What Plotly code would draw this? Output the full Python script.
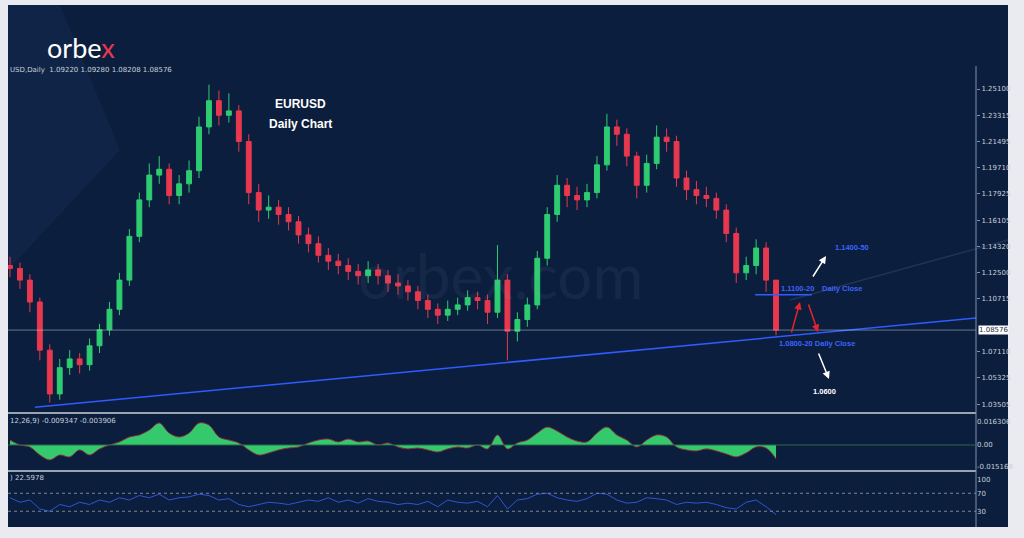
import plotly.graph_objects as go

W, H = 1024, 538
def px(x): return x / W
def py(y): return 1 - y / H

# ---- data ----
closes = [1.128,1.120,1.105,1.072,1.042,1.060,1.066,1.062,1.075,1.086,1.100,1.120,1.150,1.175,1.192,1.196,1.178,1.186,1.195,1.225,
          1.243,1.233,1.236,1.215,1.180,1.168,1.170,1.165,1.160,1.151,1.145,1.137,1.133,1.130,1.126,1.123,1.127,1.123,1.118,1.116,
          1.112,1.106,1.100,1.096,1.100,1.103,1.108,1.106,1.098,1.120,1.085,1.093,1.103,1.135,1.165,1.185,1.178,1.175,1.180,1.199,
          1.225,1.220,1.205,1.185,1.200,1.218,1.215,1.190,1.182,1.178,1.176,1.168,1.152,1.125,1.130,1.142,1.120,1.08576]
highs = [1.136,1.132,1.124,1.108,1.076,1.066,1.072,1.070,1.080,1.090,1.105,1.125,1.155,1.180,1.200,1.205,1.200,1.192,1.202,1.232,
         1.254,1.250,1.248,1.240,1.220,1.186,1.178,1.175,1.170,1.164,1.156,1.150,1.142,1.138,1.135,1.131,1.133,1.131,1.127,1.124,
         1.120,1.116,1.110,1.104,1.106,1.108,1.113,1.112,1.110,1.144,1.124,1.098,1.108,1.140,1.170,1.192,1.190,1.184,1.186,1.205,
         1.234,1.230,1.224,1.208,1.206,1.226,1.224,1.219,1.195,1.188,1.184,1.180,1.172,1.156,1.136,1.148,1.146,1.0928]
lows = [1.122,1.114,1.098,1.065,1.036,1.038,1.055,1.056,1.058,1.070,1.082,1.096,1.116,1.146,1.170,1.186,1.172,1.172,1.180,1.190,
        1.220,1.226,1.228,1.208,1.172,1.160,1.162,1.158,1.154,1.145,1.139,1.132,1.127,1.124,1.120,1.117,1.118,1.117,1.112,1.110,
        1.106,1.100,1.094,1.090,1.092,1.096,1.099,1.100,1.090,1.094,1.065,1.078,1.088,1.100,1.130,1.160,1.170,1.168,1.170,1.176,
        1.195,1.212,1.198,1.176,1.180,1.196,1.208,1.184,1.175,1.172,1.170,1.162,1.146,1.118,1.120,1.124,1.112,1.0821]
first_open = 1.130
macd_milli = [3.4,0,-1.4,-6.9,-10.3,-6.9,-8.2,-3.4,-6.9,-2.7,0,2.1,5.5,6.9,10.3,15.1,8.2,5.5,8.2,15.1,
              13.7,5.5,3.4,1.4,-3.4,-6.9,-5.5,-3.4,-2.1,-1.4,1.4,3.4,4.1,2.1,4.1,2.1,2.7,0,1.4,-1.4,
              -2.7,-2.1,-3.4,-4.8,-2.7,-1.4,-2.1,0,-2.7,6.9,-2.7,1.4,3.4,8.2,12.3,9.6,5.5,2.7,2.1,8.2,
              12.3,6.9,3.4,-1.4,3.4,6.9,5.5,-1.4,-3.4,-4.1,-2.7,-4.1,-6.2,-8.2,-5.5,-1.4,-2.1,-9.6]
rsi = [60,50,55,35,30,45,40,50,45,55,50,60,55,65,60,68,55,60,62,68,
       65,55,58,45,40,45,50,48,45,50,55,52,60,50,55,48,58,52,50,45,
       48,45,52,40,55,50,48,52,40,65,35,55,58,68,70,60,55,52,58,70,
       68,55,48,50,60,58,55,45,50,48,50,45,38,35,50,55,40,22.6]
days = list(range(len(closes)))
opens = [first_open] + closes[:-1]
price_ticks = [1.25100,1.23315,1.21495,1.19710,1.17925,1.16105,1.14320,1.12500,1.10715,1.07110,1.05325,1.03505]
last_price = 1.08576
trend_x = [2.5, 97.1]
trend_y = [1.0329, 1.0940]

BG = "#0b1e3d"
TXT = "#c8d0dc"

fig = go.Figure()
fig.add_trace(go.Candlestick(x=days, open=opens, high=highs, low=lows, close=closes,
    increasing=dict(line=dict(color="#2ecc71", width=1), fillcolor="#2ecc71"),
    decreasing=dict(line=dict(color="#e8384f", width=1), fillcolor="#e8384f"),
    whiskerwidth=0, xaxis="x", yaxis="y", showlegend=False))
fig.add_trace(go.Scatter(x=trend_x, y=trend_y, mode="lines", line=dict(color="#2f5bff", width=1.5),
                         xaxis="x", yaxis="y", showlegend=False))
fig.add_trace(go.Scatter(x=[74.9, 80.6], y=[1.110, 1.110], mode="lines", line=dict(color="#2f5bff", width=1.5),
                         xaxis="x", yaxis="y", showlegend=False))
fig.add_trace(go.Scatter(x=days, y=[v / 1000 for v in macd_milli], mode="lines", fill="tozeroy",
                         fillcolor="#34c96c", line=dict(color="#8a2c3a", width=1, shape="spline"),
                         xaxis="x2", yaxis="y2", showlegend=False))
fig.add_trace(go.Scatter(x=days, y=rsi, mode="lines", line=dict(color="#2f55d4", width=1),
                         xaxis="x3", yaxis="y3", showlegend=False))

xr = [-0.2, 97.1]
xd = [px(8), px(976)]
common_x = dict(range=xr, domain=xd, showgrid=False, showticklabels=False, zeroline=False, fixedrange=True)
fig.update_layout(
    width=W, height=H, margin=dict(l=0, r=0, t=0, b=0),
    paper_bgcolor="#e9ebf0", plot_bgcolor="rgba(0,0,0,0)",
    xaxis=dict(**common_x, rangeslider=dict(visible=False)),
    xaxis2=dict(**common_x, anchor="y2"),
    xaxis3=dict(**common_x, anchor="y3"),
    yaxis=dict(domain=[py(412), py(68)], range=[1.0296, 1.2654], side="right", tickvals=price_ticks,
               ticktext=[f"{v:.5f}" for v in price_ticks], tickfont=dict(size=7, color=TXT, family="DejaVu Sans"),
               showgrid=False, zeroline=False, ticks="outside", ticklen=3, tickcolor="#8090a8"),
    yaxis2=dict(domain=[py(470), py(415)], range=[-0.0172, 0.0206], side="right", anchor="x2",
                tickvals=[0.016306, 0, -0.015168], ticktext=["0.016306", "0.00", "-0.015168"],
                tickfont=dict(size=7, color=TXT, family="DejaVu Sans"), showgrid=False, zeroline=False),
    yaxis3=dict(domain=[py(527), py(473)], range=[-5, 115], side="right", anchor="x3",
                tickvals=[100, 70, 30], tickfont=dict(size=7, color=TXT, family="DejaVu Sans"),
                showgrid=False, zeroline=False),
)

shapes = [
    dict(type="rect", xref="paper", yref="paper", x0=px(8), x1=px(1008), y0=py(527), y1=py(5),
         fillcolor=BG, line=dict(width=0), layer="below"),
    dict(type="path", xref="paper", yref="paper", path=f"M {px(8)} {py(5)} L {px(60)} {py(5)} L {px(120)} {py(150)} L {px(8)} {py(270)} Z",
         fillcolor="#0f2446", line=dict(width=0), layer="below"),
    dict(type="line", xref="paper", yref="paper", x0=px(790), x1=px(1008), y0=py(300), y1=py(240),
         line=dict(color="rgba(120,140,170,0.2)", width=1.5), layer="below"),
    dict(type="line", xref="paper", yref="y", x0=px(8), x1=px(976), y0=last_price, y1=last_price,
         line=dict(color="rgba(200,210,220,0.5)", width=1)),
    dict(type="line", xref="paper", yref="paper", x0=px(8), x1=px(976), y0=py(413), y1=py(413), line=dict(color="#9aa3b0", width=2)),
    dict(type="line", xref="paper", yref="paper", x0=px(8), x1=px(976), y0=py(471), y1=py(471), line=dict(color="#9aa3b0", width=2)),
    dict(type="line", xref="paper", yref="paper", x0=px(976), x1=px(976), y0=py(527), y1=py(66), line=dict(color="#8090a8", width=1)),
    dict(type="line", xref="paper", yref="y3", x0=px(8), x1=px(976), y0=70, y1=70, line=dict(color="#7c879a", width=1, dash="dot")),
    dict(type="line", xref="paper", yref="y3", x0=px(8), x1=px(976), y0=30, y1=30, line=dict(color="#7c879a", width=1, dash="dot")),
    dict(type="line", xref="paper", yref="y2", x0=px(8), x1=px(976), y0=0, y1=0, line=dict(color="#2a6d4a", width=1)),
]
fig.update_layout(shapes=shapes)

def note(x, y, text, size=8, color="white", bold=False, anchor="left", family="Liberation Sans"):
    return dict(xref="paper", yref="paper", x=px(x), y=py(y), text=f"<b>{text}</b>" if bold else text,
                showarrow=False, xanchor=anchor, yanchor="middle", font=dict(size=size, color=color, family=family))

def arrow(x0, y0, x1, y1, color):
    return dict(xref="paper", yref="paper", x=px(x1), y=py(y1), ax=x0 - x1, ay=y0 - y1, axref="pixel", ayref="pixel",
                showarrow=True, arrowhead=2, arrowsize=1, arrowwidth=1.5, arrowcolor=color, text="")

BLUE = "#3b63ff"
anns = [
    note(500, 275, "orbex.com", size=62, color="rgba(150,165,190,0.08)", anchor="center", family="Lato"),
    note(45, 47, "orbe<span style='color:#e8384f'>x</span>", size=27, color="white", family="Lato"),
    note(8, 70, "USD,Daily  1.09220 1.09280 1.08208 1.08576", size=7, color=TXT, family="DejaVu Sans"),
    note(300, 104, "EURUSD", size=12, bold=True, anchor="center"),
    note(300, 124, "Daily Chart", size=12, bold=True, anchor="center"),
    note(8, 421, "12,26,9) -0.009347 -0.003906", size=7, color=TXT, family="DejaVu Sans"),
    note(8, 478, ") 22.5978", size=7, color=TXT, family="DejaVu Sans"),
    note(833, 248, "1.1400-50", size=7.5, color=BLUE, bold=True),
    note(779, 288, "1.1100-20", size=7.5, color=BLUE, bold=True),
    note(820, 288, "Daily Close", size=7.5, color=BLUE, bold=True),
    note(777, 343, "1.0800-20 Daily Close", size=7.5, color=BLUE, bold=True),
    note(811, 391, "1.0600", size=7.5, color="white", bold=True),
    dict(xref="paper", yref="y", x=px(978), y=last_price, text="1.08576", showarrow=False, xanchor="left",
         bgcolor="white", font=dict(size=7, color="#1a2a44", family="DejaVu Sans"), borderpad=0),
    arrow(812, 278, 826, 256, "white"),
    arrow(791, 334, 800, 302, "#e8232f"),
    arrow(808, 303, 818, 332, "#e8232f"),
    arrow(818, 352, 829, 379, "white"),
]
fig.update_layout(annotations=anns)
fig.write_html("out.html", config={"displayModeBar": False},
               post_script="document.body.style.margin='0';document.body.style.overflow='hidden';")
